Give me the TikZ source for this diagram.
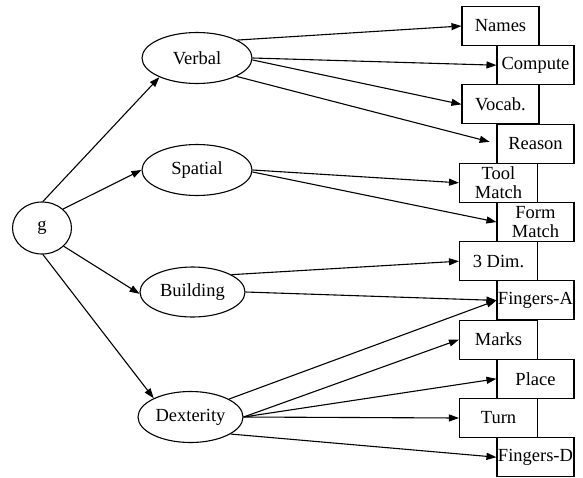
\documentclass[tikz,border=0pt]{standalone}
\usepackage{fontspec}
\setmainfont{Liberation Serif}
\usetikzlibrary{arrows.meta,shapes.geometric}
\begin{document}
\begin{tikzpicture}[x=1pt,y=-1pt,
  font=\fontsize{18.5}{18.5}\selectfont,
  line width=1.1pt,
  factor/.style={draw,ellipse,inner sep=0pt,minimum width=110pt,minimum height=51pt},
  testbox/.style={draw,rectangle,inner sep=0pt,minimum width=77pt,minimum height=39pt,align=center},
  edge/.style={draw,-{Triangle[length=10pt,width=7pt]}}]
\useasboundingbox (0,0) rectangle (583,477);
% general factor
\node[draw,ellipse,inner sep=0pt,minimum width=59pt,minimum height=52pt] (g) at (42,228) {g};
% group factors
\node[factor] (verbal) at (197,58) {Verbal};
\node[factor] (spatial) at (197,170) {Spatial};
\node[factor,minimum width=105pt,minimum height=50pt] (building) at (192.5,292) {Building};
\node[factor,minimum width=105pt] (dexterity) at (190.5,417) {Dexterity};
% tests
\node[testbox,minimum width=77pt] (names) at (500.5,26) {Names};
\node[testbox] (compute) at (535.5,65.2) {Compute};
\node[testbox,minimum width=77pt] (vocab) at (500.5,104.4) {Vocab.};
\node[testbox] (reason) at (535.5,143.6) {Reason};
\node[testbox,minimum width=78pt] (tool) at (498.5,182.8) {Tool\\Match};
\node[testbox] (form) at (535.5,222) {Form\\Match};
\node[testbox,minimum width=78pt] (dim) at (498.5,261.2) {3 Dim.};
\node[testbox] (fingA) at (535.5,300.4) {Fingers-A};
\node[testbox,minimum width=78pt] (marks) at (498.5,339.6) {Marks};
\node[testbox] (place) at (535.5,378.8) {Place};
\node[testbox,minimum width=78pt] (turn) at (498.5,418) {Turn};
\node[testbox] (fingD) at (535.5,457.2) {Fingers-D};
% g to factors
\path[edge] (g.88) -- (verbal.207);
\path[edge] (g.42) -- (spatial.west);
\path[edge] (g.320) -- (building.182);
\path[edge] (g.272) -- (dexterity.153);
% verbal
\path[edge] (verbal.24) -- (names.west);
\path[edge] (verbal.east) -- (compute.west);
\path[edge] (verbal.-2) -- (vocab.west);
\path[edge,shorten >=7pt] (verbal.-25) -- (reason.west);
% spatial
\path[edge] (spatial.east) -- (tool.west);
\path[edge] (spatial.-2) -- (form.west);
% building
\path[edge] (building.24) -- (dim.west);
\path[edge] (building.east) -- (fingA.west);
% dexterity
\path[edge] (dexterity.25) -- (fingA.west);
\path[edge] (dexterity.east) -- (marks.west);
\path[edge] (dexterity.east) -- (place.west);
\path[edge] (dexterity.east) -- (turn.west);
\path[edge] (dexterity.-23) -- (fingD.west);
\end{tikzpicture}
\end{document}
